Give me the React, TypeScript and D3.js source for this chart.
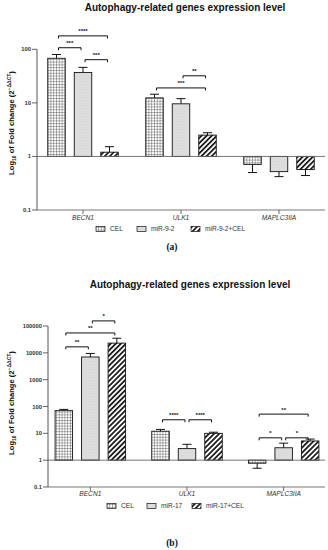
import * as d3 from 'd3';

// genes on the x axis
const genes = ['BECN1', 'ULK1', 'MAPLC3IIA'];

// panel (a)
const seriesA = ['CEL', 'miR-9-2', 'miR-9-2+CEL'];
const meanA = [
  [68, 12.4, 0.71],
  [37, 9.6, 0.52],
  [1.2, 2.5, 0.57],
];
const semA = [
  [12, 2.1, 0.21],
  [9, 2.4, 0.1],
  [0.32, 0.27, 0.13],
];
const sigA = [
  { gene: 0, from: 0, to: 2, level: 178, label: '****' },
  { gene: 0, from: 0, to: 1, level: 107, label: '***' },
  { gene: 0, from: 1, to: 2, level: 64, label: '***' },
  { gene: 1, from: 0, to: 2, level: 19, label: '***' },
  { gene: 1, from: 1, to: 2, level: 32, label: '**' },
];
const ticksA = [0.1, 1, 10, 100];

// panel (b)
const seriesB = ['CEL', 'miR-17', 'miR-17+CEL'];
const meanB = [
  [70, 12, 0.77],
  [7000, 2.7, 2.9],
  [23000, 10, 5.2],
];
const semB = [
  [8, 2, 0.27],
  [2500, 1.2, 1.4],
  [12000, 1, 0.9],
];
const sigB = [
  { gene: 0, from: 0, to: 1, level: 16700, label: '**' },
  { gene: 0, from: 0, to: 2, level: 55000, label: '**' },
  { gene: 0, from: 1, to: 2, level: 155000, label: '*' },
  { gene: 1, from: 0, to: 1, level: 32, label: '****' },
  { gene: 1, from: 1, to: 2, level: 32, label: '****' },
  { gene: 2, from: 0, to: 2, level: 52, label: '**' },
  { gene: 2, from: 0, to: 1, level: 6.8, label: '*' },
  { gene: 2, from: 1, to: 2, level: 6.8, label: '*' },
];
const ticksB = [0.1, 1, 10, 100, 1000, 10000, 100000];

const patterns = ['url(#grid)', 'url(#dots)', 'url(#stripes)'];
const font = 'Liberation Sans, Arial, sans-serif';

const layoutA = {
  titleX: 185, titleY: 10.5,
  axisX: 37, plotRight: 325,
  yRange: [210, 49.3], domain: [0.1, 100],
  bandRange: [34, 328],
  geneLabelY: 220,
  legendY: 229, legendX: [96, 137, 191],
  yLabelX: 14, yLabelCY: 123,
  caption: '(a)', captionX: 172, captionY: 250,
};

const layoutB = {
  titleX: 190, titleY: 287.5,
  axisX: 48, plotRight: 325,
  yRange: [487, 326], domain: [0.1, 100000],
  bandRange: [42, 332],
  geneLabelY: 496,
  legendY: 506, legendX: [107, 147, 192],
  yLabelX: 14, yLabelCY: 403,
  caption: '(b)', captionX: 172, captionY: 546,
};

function fmt(v: number) {
  return v < 1 ? String(v) : d3.format('d')(v);
}

function Panel({ L, series, means, sems, sig, ticks }: any) {
  const y = d3.scaleLog().domain(L.domain).range(L.yRange);
  const x0 = d3.scaleBand<string>().domain(genes).range(L.bandRange);
  const x1 = d3.scaleBand<string>().domain(series).range([0, 70.5]).paddingInner(0.34);
  const bw = x1.bandwidth();
  const barX = (g: number, s: number) =>
    (x0(genes[g]) as number) + x0.bandwidth() / 2 - 35.25 + (x1(series[s]) as number);
  const cx = (g: number, s: number) => barX(g, s) + bw / 2;
  const y1 = y(1);

  return (
    <g>
      <text x={L.titleX} y={L.titleY} textAnchor="middle" fontFamily={font} fontWeight="bold" fontSize={10} fill="#111">
        Autophagy-related genes expression level
      </text>

      {/* bars + error bars */}
      {series.map((sName: string, s: number) =>
        genes.map((gName, g) => {
          const v = means[s][g];
          const e = v >= 1 ? v + sems[s][g] : v - sems[s][g];
          const yv = y(v);
          const ye = y(e);
          const c = cx(g, s);
          return (
            <g key={sName + gName}>
              <line x1={c} x2={c} y1={yv} y2={ye} stroke="#111" strokeWidth={1} />
              <line x1={c - 4.5} x2={c + 4.5} y1={ye} y2={ye} stroke="#111" strokeWidth={1} />
              <rect x={barX(g, s)} y={Math.min(yv, y1)} width={bw} height={Math.abs(yv - y1)}
                fill={patterns[s]} stroke="#111" strokeWidth={0.9} />
            </g>
          );
        })
      )}

      {/* baseline at 1 and bottom axis */}
      <line x1={L.axisX} x2={L.plotRight} y1={y1} y2={y1} stroke="#666" strokeWidth={0.9} />
      <line x1={L.axisX} x2={L.plotRight} y1={y(L.domain[0])} y2={y(L.domain[0])} stroke="#666" strokeWidth={0.9} />
      <line x1={L.axisX} x2={L.axisX} y1={y(L.domain[0])} y2={y(L.domain[1])} stroke="#555" strokeWidth={1} />

      {ticks.map((t: number) => (
        <g key={t}>
          <line x1={L.axisX - 5} x2={L.axisX} y1={y(t)} y2={y(t)} stroke="#555" strokeWidth={0.9} />
          <text x={L.axisX - 6} y={y(t) + 2} textAnchor="end" fontFamily={font} fontWeight="bold" fontSize={5.8} fill="#333">
            {fmt(t)}
          </text>
        </g>
      ))}

      {genes.map((gName) => {
        const c = (x0(gName) as number) + x0.bandwidth() / 2;
        return (
          <g key={gName}>
            <line x1={c} x2={c} y1={y(L.domain[0])} y2={y(L.domain[0]) + 4} stroke="#555" strokeWidth={0.9} />
            <text x={c} y={L.geneLabelY} textAnchor="middle" fontFamily={font} fontStyle="italic" fontSize={6.6} fill="#333">
              {gName}
            </text>
          </g>
        );
      })}

      {/* significance brackets */}
      {sig.map((b: any, i: number) => {
        const xa = cx(b.gene, b.from) + 2;
        const xb = cx(b.gene, b.to) - 2;
        const yy = y(b.level);
        return (
          <g key={i}>
            <path d={`M${xa},${yy + 2.5}V${yy}H${xb}V${yy + 2.5}`} fill="none" stroke="#111" strokeWidth={1} />
            <text x={(xa + xb) / 2} y={yy - 2.5} textAnchor="middle" fontFamily={font} fontWeight="bold" fontSize={6} fill="#111">
              {b.label}
            </text>
          </g>
        );
      })}

      {/* y axis title */}
      <text transform={`translate(${L.yLabelX},${L.yLabelCY}) rotate(-90)`} textAnchor="middle"
        fontFamily={font} fontWeight="bold" fontSize={7.6} fill="#111">
        Log<tspan dy={2} fontSize={5}>10</tspan>
        <tspan dy={-2}> of Fold change (2</tspan>
        <tspan dy={-3} fontSize={5}>−ΔΔCT</tspan>
        <tspan dy={3}>)</tspan>
      </text>

      {/* legend */}
      {series.map((sName: string, s: number) => (
        <g key={sName}>
          <rect x={L.legendX[s]} y={L.legendY - 2.5} width={9} height={5} fill={patterns[s]} stroke="#111" strokeWidth={0.7} />
          <text x={L.legendX[s] + 14} y={L.legendY + 2.2} fontFamily={font} fontSize={6.6} fill="#333">
            {sName}
          </text>
        </g>
      ))}

      <text x={L.captionX} y={L.captionY} textAnchor="middle" fontFamily="Liberation Serif, Times New Roman, serif"
        fontWeight="bold" fontSize={9.5} fill="#111">
        {L.caption}
      </text>
    </g>
  );
}

export default function App() {
  return (
    <svg width={328} height={550} style={{ position: 'absolute', left: 0, top: 0, background: '#fff' }}>
      <defs>
        <pattern id="grid" patternUnits="userSpaceOnUse" width={2.8} height={2.8}>
          <rect width={2.8} height={2.8} fill="#fff" />
          <path d="M0,0H2.8M0,0V2.8" stroke="#222" strokeWidth={0.7} />
        </pattern>
        <pattern id="dots" patternUnits="userSpaceOnUse" width={1.6} height={1.6}>
          <rect width={1.6} height={1.6} fill="#eeeeee" />
          <circle cx={0.8} cy={0.8} r={0.45} fill="#9a9a9a" />
        </pattern>
        <pattern id="stripes" patternUnits="userSpaceOnUse" width={3.6} height={3.6} patternTransform="rotate(45)">
          <rect width={3.6} height={3.6} fill="#fff" />
          <line x1={0.9} x2={0.9} y1={0} y2={3.6} stroke="#111" strokeWidth={1.7} />
        </pattern>
      </defs>
      <rect width={328} height={550} fill="#fff" />
      <Panel L={layoutA} series={seriesA} means={meanA} sems={semA} sig={sigA} ticks={ticksA} />
      <Panel L={layoutB} series={seriesB} means={meanB} sems={semB} sig={sigB} ticks={ticksB} />
    </svg>
  );
}
